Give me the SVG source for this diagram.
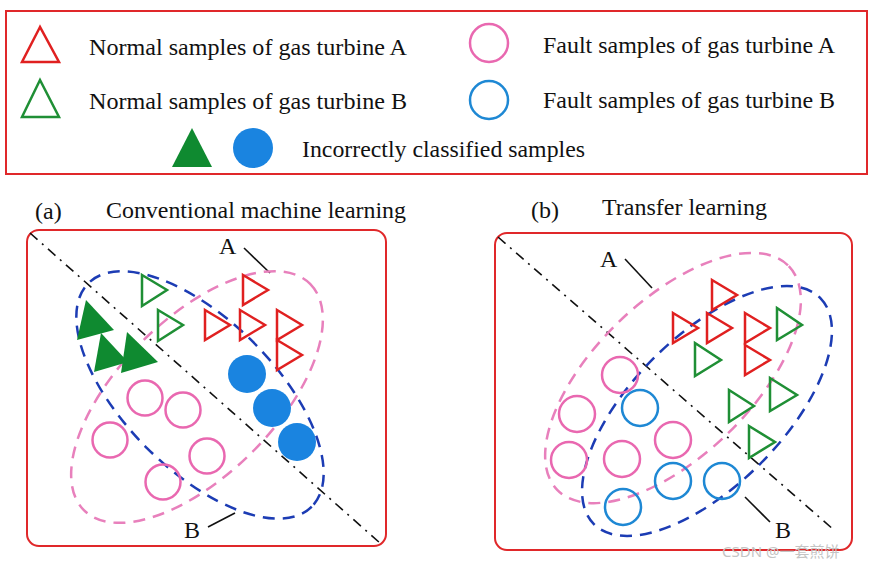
<svg xmlns="http://www.w3.org/2000/svg" width="871" height="563" viewBox="0 0 871 563">
<style>
.t{font-family:"Liberation Serif","Times New Roman",serif;font-size:24px;fill:#111}
.box{fill:none;stroke:#e0282a;stroke-width:2}
.tr{fill:none;stroke:#e02020;stroke-width:2.5}
.tg{fill:none;stroke:#1f8f35;stroke-width:2.5}
.cp{fill:none;stroke:#e968b0;stroke-width:2.5}
.cb{fill:none;stroke:#1e88d4;stroke-width:2.5}
.fg{fill:#0f8a30}
.fb{fill:#1a84e0}
.ep{fill:none;stroke:#e880bc;stroke-width:2.5;stroke-dasharray:12 8}
.eb{fill:none;stroke:#1c3cb4;stroke-width:2.5;stroke-dasharray:12 8}
.dd{stroke:#111;stroke-width:1.6;stroke-dasharray:10 6 2 6}
.ld{stroke:#111;stroke-width:1.6}
.wm{font-family:"Noto Sans","Noto Sans CJK SC",sans-serif;font-size:15px;fill:#c4c4c4}
</style>
<rect width="871" height="563" fill="#fff"/>
<g id="legend">
<rect class="box" x="6" y="11" width="861" height="163"/>
<polygon class="tr" points="40,27 22,62 59,62"/>
<text class="t" x="89" y="55" textLength="318" lengthAdjust="spacingAndGlyphs">Normal samples of gas turbine A</text>
<polygon class="tg" points="40,80 22,117 59,117"/>
<text class="t" x="89" y="109" textLength="318" lengthAdjust="spacingAndGlyphs">Normal samples of gas turbine B</text>
<circle class="cp" cx="489" cy="43" r="19"/>
<text class="t" x="543" y="53" textLength="292" lengthAdjust="spacingAndGlyphs">Fault samples of gas turbine A</text>
<circle class="cb" cx="489" cy="100" r="19"/>
<text class="t" x="543" y="108" textLength="292" lengthAdjust="spacingAndGlyphs">Fault samples of gas turbine B</text>
<polygon class="fg" points="192,128 172,167 212,167"/>
<circle class="fb" cx="253" cy="148" r="20"/>
<text class="t" x="302" y="157" textLength="283" lengthAdjust="spacingAndGlyphs">Incorrectly classified samples</text>
</g>
<g id="panel-a">
<text class="t" x="35" y="219">(a)</text>
<text class="t" x="106" y="218" textLength="300" lengthAdjust="spacingAndGlyphs">Conventional machine learning</text>
<rect class="box" x="27" y="230" width="359" height="316" rx="12"/>
</g>
<g id="panel-b">
<text class="t" x="531" y="218">(b)</text>
<text class="t" x="602" y="215" textLength="165" lengthAdjust="spacingAndGlyphs">Transfer learning</text>
<rect class="box" x="495" y="233" width="357" height="317" rx="12"/>
</g>
<g id="connectors">
<line class="dd" x1="30" y1="233" x2="380" y2="543"/>
<line class="dd" x1="498" y1="237" x2="834" y2="530"/>
<line class="ld" x1="244" y1="248" x2="270" y2="273"/>
<line class="ld" x1="208" y1="527" x2="235" y2="513"/>
<line class="ld" x1="625" y1="259" x2="652" y2="288"/>
<line class="ld" x1="745" y1="497" x2="770" y2="522"/>
</g>
<g id="cluster-a-A"><ellipse class="ep" cx="197" cy="397" rx="160" ry="78" transform="rotate(-45 197 397)"/></g>
<g id="cluster-a-B"><ellipse class="eb" cx="200" cy="395" rx="158" ry="75" transform="rotate(45 200 395)"/></g>
<g id="cluster-b-A"><ellipse class="ep" cx="673" cy="378" rx="161" ry="78" transform="rotate(-44 673 378)"/></g>
<g id="cluster-b-B"><ellipse class="eb" cx="707" cy="411" rx="160" ry="75" transform="rotate(-45 707 411)"/></g>
<g id="labels">
<text class="t" x="219" y="254">A</text>
<text class="t" x="184" y="538">B</text>
<text class="t" x="600" y="267">A</text>
<text class="t" x="775" y="538">B</text>
</g>
<g id="samples-a">
<polygon class="tg" points="142,275 167,290 142,306"/>
<polygon class="tg" points="158,310 183,325 158,341"/>
<polygon class="tr" points="243,275 268,290 243,305"/>
<polygon class="tr" points="205,310 230,325 205,340"/>
<polygon class="tr" points="240,310 265,325 240,340"/>
<polygon class="tr" points="277,310 302,325 277,340"/>
<polygon class="tr" points="277,340 302,355 277,370"/>
<polygon class="fg" points="86,300 77,340 114,330"/>
<polygon class="fg" points="101,333 94,372 128,362"/>
<polygon class="fg" points="127,332 121,373 158,362"/>
<circle class="fb" cx="247" cy="374" r="19"/>
<circle class="fb" cx="272" cy="408" r="19"/>
<circle class="fb" cx="297" cy="442" r="19"/>
<circle class="cp" cx="145" cy="398" r="17.5"/>
<circle class="cp" cx="183" cy="410" r="17.5"/>
<circle class="cp" cx="110" cy="440" r="17.5"/>
<circle class="cp" cx="207" cy="456" r="17.5"/>
<circle class="cp" cx="163" cy="482" r="17.5"/>
</g>
<g id="samples-b">
<polygon class="tr" points="712,280 737,295 712,310"/>
<polygon class="tr" points="673,313 698,328 673,343"/>
<polygon class="tr" points="707,313 732,328 707,343"/>
<polygon class="tr" points="745,313 770,328 745,343"/>
<polygon class="tr" points="745,345 770,360 745,375"/>
<polygon class="tg" points="777,308 802,325 777,340"/>
<polygon class="tg" points="695,343 721,360 695,376"/>
<polygon class="tg" points="729,390 754,406 729,422"/>
<polygon class="tg" points="770,378 797,395 770,411"/>
<polygon class="tg" points="749,426 775,442 749,458"/>
<circle class="cp" cx="620" cy="375" r="18"/>
<circle class="cp" cx="577" cy="414" r="18"/>
<circle class="cp" cx="569" cy="460" r="18"/>
<circle class="cp" cx="622" cy="459" r="18"/>
<circle class="cp" cx="673" cy="440" r="18"/>
<circle class="cb" cx="640" cy="408" r="18"/>
<circle class="cb" cx="673" cy="481" r="18"/>
<circle class="cb" cx="722" cy="481" r="18"/>
<circle class="cb" cx="623" cy="507" r="18"/>
</g>
<text class="wm" x="722" y="557">CSDN @一套煎饼</text>
</svg>
